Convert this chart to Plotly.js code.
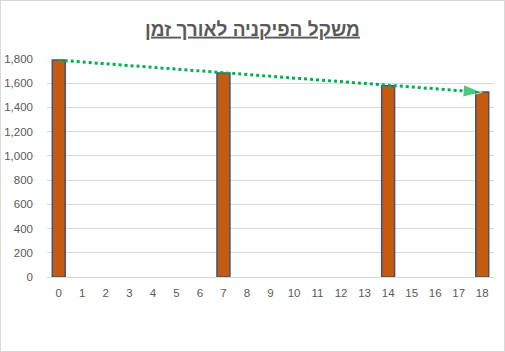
<!DOCTYPE html>
<html><head><meta charset="utf-8">
<script src="https://cdn.plot.ly/plotly-3.0.1.min.js"></script>
<style>html,body{margin:0;padding:0;background:#fff}#wrap{width:505px;height:352px;box-sizing:border-box;border:1px solid #D9D9D9;overflow:hidden}#chart{width:503px;height:350px}</style>
</head><body><div id="wrap"><div id="chart"></div></div>
<script>
const titleText = "משקל הפיקניה לאורך זמן";
const tickLabels = ["0","1","2","3","4","5","6","7","8","9","10","11","12","13","14","15","16","17","18"];
const days = [0, 7, 14, 18];
const weights = [1792, 1685, 1580, 1528];
const yTicks = [0, 200, 400, 600, 800, 1000, 1200, 1400, 1600, 1800];

// linear trendline from the data
const n = days.length;
const mx = days.reduce((a,b)=>a+b,0)/n, my = weights.reduce((a,b)=>a+b,0)/n;
let sxy=0, sxx=0;
for (let i=0;i<n;i++){ sxy += (days[i]-mx)*(weights[i]-my); sxx += (days[i]-mx)**2; }
const slope = sxy/sxx, icpt = my - slope*mx;
const trendX = [days[0], days[n-1]];
const trendY = trendX.map(x => icpt + slope*x);

const traces = [
  {type:'bar', x:days, y:weights, width:0.55,
   marker:{color:'#C55A11', line:{color:'#44546A', width:1.5}}, hoverinfo:'x+y'},
  {type:'scatter', mode:'lines+markers', x:trendX, y:trendY,
   line:{color:'#00B050', width:3, dash:'dot'},
   marker:{symbol:['circle','arrow'], size:[0,20], angleref:'previous', color:'#00B050', standoff:0},
   hoverinfo:'skip'}
];
const layout = {
  width:503, height:350,
  margin:{l:46, r:10, t:58, b:74},
  paper_bgcolor:'#fff', plot_bgcolor:'#fff',
  showlegend:false,
  title:{text:'<b><u>'+titleText+'</u></b>', x:0.5, xanchor:'center', y:0.92, yanchor:'middle',
         font:{family:'Liberation Sans, Arial, sans-serif', size:19, color:'#595959'}},
  xaxis:{range:[-0.5,18.5], tickmode:'array', tickvals:tickLabels.map(Number), ticktext:tickLabels,
         showgrid:false, zeroline:false, showline:true, linecolor:'#D9D9D9', linewidth:1,
         ticks:'', ticklabelstandoff:5,
         tickfont:{family:'Liberation Sans, Arial, sans-serif', size:11.5, color:'#595959'}, fixedrange:true},
  yaxis:{range:[0,1800], tickmode:'array', tickvals:yTicks, tickformat:',d',
         showgrid:true, gridcolor:'#D9D9D9', gridwidth:1, zeroline:false, showline:false,
         ticks:'', ticklabelstandoff:13,
         tickfont:{family:'Liberation Sans, Arial, sans-serif', size:11.5, color:'#595959'}, fixedrange:true},
  bargap:0
};
Plotly.newPlot('chart', traces, layout, {displayModeBar:false, staticPlot:true});
</script></body></html>
